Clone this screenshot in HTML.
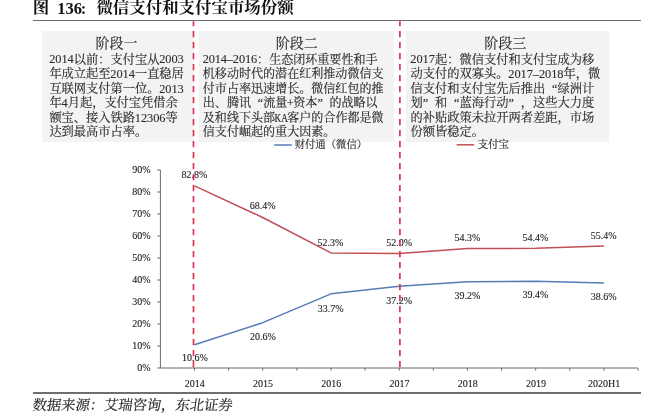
<!DOCTYPE html>
<html lang="zh-CN">
<head>
<meta charset="utf-8">
<title>图 136: 微信支付和支付宝市场份额</title>
<style>
html,body{margin:0;padding:0;background:#fff}
body{width:660px;height:414px;position:relative;overflow:hidden;font-family:"Liberation Serif",serif;color:#2b2b2b}
.rule{position:absolute;left:32.5px;width:608.5px;height:1.6px;background:#6f6f6f}
.r1{top:19.6px}
.r2{top:392.2px}
.note{position:absolute;top:30.7px;height:111px;background:#f3f3f3}
.n1{left:42px;width:152px}
.n2{left:199px;width:194.5px}
.n3{left:406px;width:202.5px}
svg{position:absolute;left:0;top:0;font-family:"Liberation Serif","Noto Serif CJK SC",serif;filter:blur(.45px)}
</style>
</head>
<body>
<div class="rule r1"></div>
<div class="note n1"></div>
<div class="note n2"></div>
<div class="note n3"></div>
<div class="rule r2"></div>
<svg width="660" height="414" viewBox="0 0 660 414" role="img">
<!-- chart -->
<g stroke="#6a6a6a" stroke-width="1" fill="none">
<path d="M160.4 170 V368 H638"/>
<path d="M157.2 368h3.2M157.2 346h3.2M157.2 324h3.2M157.2 302h3.2M157.2 280h3.2M157.2 258h3.2M157.2 236h3.2M157.2 214h3.2M157.2 192h3.2M157.2 170h3.2M194.51 368v2.6M228.63 368v2.6M262.74 368v2.6M296.86 368v2.6M330.97 368v2.6M365.09 368v2.6M399.2 368v2.6M433.31 368v2.6M467.43 368v2.6M501.54 368v2.6M535.66 368v2.6M569.77 368v2.6M603.89 368v2.6M638 368v2.6"/>
</g>
<g font-size="10" text-anchor="end" fill="#222" stroke="#222" stroke-width=".12">
<text x="150.6" y="371.3">0%</text>
<text x="150.6" y="349.3">10%</text>
<text x="150.6" y="327.3">20%</text>
<text x="150.6" y="305.3">30%</text>
<text x="150.6" y="283.3">40%</text>
<text x="150.6" y="261.3">50%</text>
<text x="150.6" y="239.3">60%</text>
<text x="150.6" y="217.3">70%</text>
<text x="150.6" y="195.3">80%</text>
<text x="150.6" y="173.3">90%</text>
</g>
<g font-size="10" text-anchor="middle" fill="#222" stroke="#222" stroke-width=".12">
<text x="194.81" y="387.2">2014</text>
<text x="263.04" y="387.2">2015</text>
<text x="331.27" y="387.2">2016</text>
<text x="399.5" y="387.2">2017</text>
<text x="467.73" y="387.2">2018</text>
<text x="535.96" y="387.2">2019</text>
<text x="604.19" y="387.2">2020H1</text>
</g>
<polyline fill="none" stroke="#557cb4" stroke-width="1.5" stroke-linejoin="round" points="194.51,344.68 262.74,322.68 330.97,293.86 399.2,286.16 467.43,281.76 535.66,281.32 603.89,283.08"/>
<polyline fill="none" stroke="#c04f56" stroke-width="1.5" stroke-linejoin="round" points="194.51,185.84 262.74,217.52 330.97,252.94 399.2,253.6 467.43,248.54 535.66,248.32 603.89,246.12"/>
<path d="M274.2 145H291.8" stroke="#557cb4" stroke-width="1.5"/>
<path d="M456.6 144.8H474.2" stroke="#c04f56" stroke-width="1.5"/>
<g font-size="10" text-anchor="middle" fill="#222" stroke="#222" stroke-width=".12">
<text x="194.3" y="177.8">82.8%</text>
<text x="262.6" y="209.4">68.4%</text>
<text x="330.4" y="245.5">52.3%</text>
<text x="399.2" y="245.5">52.0%</text>
<text x="467.4" y="240.5">54.3%</text>
<text x="535.5" y="240.5">54.4%</text>
<text x="603.6" y="238.8">55.4%</text>
<text x="194.8" y="361.2">10.6%</text>
<text x="262.8" y="339.6">20.6%</text>
<text x="330.6" y="311.6">33.7%</text>
<text x="399.2" y="303.6">37.2%</text>
<text x="467.4" y="298.7">39.2%</text>
<text x="535.5" y="298.1">39.4%</text>
<text x="603.6" y="299.7">38.6%</text>
</g>
<g stroke="#d8384e" stroke-width="1.7" stroke-dasharray="6.2 4.8" stroke-dashoffset="1.2" fill="none">
<path d="M193.5 21.2V368"/>
<path d="M399.9 21.2V368"/>
</g>
<!-- text -->
<g aria-label="图 136: 微信支付和支付宝市场份额"><desc>图 136: 微信支付和支付宝市场份额</desc>
<text x="32.8" y="12.8" font-size="16.45" font-weight="bold" fill="#111">图</text>
<text x="57.2" y="14.1" font-size="16.5" font-weight="bold" fill="#111">136<tspan dx="-1.1">:</tspan></text>
<text x="96.4" y="13.3" font-size="16.45" font-weight="bold" fill="#111">微信支付和支付宝市场份额</text>
</g>
<g aria-label="阶段一" fill="#2b2b2b"><desc>阶段一：2014以前：支付宝从2003年成立起至2014一直稳居互联网支付第一位。2013年4月起，支付宝凭借余额宝、接入铁路12306等达到最高市占率。</desc>
<text x="95.6" y="48" font-size="14" stroke="#2b2b2b" stroke-width=".16">阶段一</text>
<g font-size="12.22" stroke="#2b2b2b" stroke-width=".16">
<text x="73.85" y="63.6">以前：支付宝从</text>
<text x="49.41" y="78.15">年成立起至</text>
<text x="134.95" y="78.15">一直稳居</text>
<text x="49.41" y="92.7">互联网支付第一位。</text>
<text x="49.41" y="107.25">年</text>
<text x="67.74" y="107.25">月起，支付宝凭借余</text>
<text x="49.41" y="121.8">额宝、接入铁路</text>
<text x="165.5" y="121.8">等</text>
<text x="49.41" y="136.35">达到最高市占率。</text>
</g>
<text x="52.35 58.46 64.58 70.69" y="63.4" font-size="12.4" text-anchor="middle" stroke="#2b2b2b" stroke-width=".1">2014</text><text x="162.34 168.45 174.56 180.67" y="63.4" font-size="12.4" text-anchor="middle" stroke="#2b2b2b" stroke-width=".1">2003</text>
<text x="113.45 119.56 125.67 131.78" y="77.95" font-size="12.4" text-anchor="middle" stroke="#2b2b2b" stroke-width=".1">2014</text>
<text x="162.34 168.45 174.56 180.67" y="92.5" font-size="12.4" text-anchor="middle" stroke="#2b2b2b" stroke-width=".1">2013</text>
<text x="64.58" y="107.05" font-size="12.4" text-anchor="middle" stroke="#2b2b2b" stroke-width=".1">4</text>
<text x="137.9 144.01 150.12 156.23 162.34" y="121.6" font-size="12.4" text-anchor="middle" stroke="#2b2b2b" stroke-width=".1">12306</text>
</g>
<g aria-label="阶段二" fill="#2b2b2b"><desc>阶段二：2014-2016：生态闭环重要性和手机移动时代的潜在红利推动微信支付市占率迅速增长。微信红包的推出、腾讯“流量+资本”的战略以及和线下头部KA客户的合作都是微信支付崛起的重大因素。</desc>
<text x="275.8" y="48" font-size="14" stroke="#2b2b2b" stroke-width=".16">阶段二</text>
<g font-size="12.06" stroke="#2b2b2b" stroke-width=".16">
<text x="257.1" y="63.6">：生态闭环重要性和手</text>
<text x="202.83" y="78.15">机移动时代的潜在红利推动微信支</text>
<text x="202.83" y="92.7">付市占率迅速增长。微信红包的推</text>
<text x="202.83" y="107.25">出、腾讯</text>
<text x="263.13" y="107.25" text-anchor="end">“</text>
<text x="263.13" y="107.25">流量</text>
<text x="293.28" y="107.25">资本</text>
<text x="317.4" y="107.25">”</text>
<text x="329.46" y="107.25">的战略以</text>
<text x="202.83" y="121.8">及和线下头部</text>
<text x="287.25" y="121.8">客户的合作都是微</text>
<text x="202.83" y="136.35">信支付崛起的重大因素。</text>
</g>
<text x="205.81 211.84 217.88 223.91 229.94 235.97 242 248.03 254.06" y="63.4" font-size="12.4" text-anchor="middle" stroke="#2b2b2b" stroke-width=".1">2014–2016</text>
<text x="290.24" y="107.05" font-size="12.4" text-anchor="middle" stroke="#2b2b2b" stroke-width=".1">+</text>
<text transform="translate(281.19 121.6) scale(.74 1)" font-size="12.4" text-anchor="middle" stroke="#2b2b2b" stroke-width=".25">KA</text>
</g>
<g aria-label="阶段三" fill="#2b2b2b"><desc>阶段三：2017起：微信支付和支付宝成为移动支付的双寡头。2017-2018年，微信支付和支付宝先后推出“绿洲计划”和“蓝海行动”，这些大力度的补贴政策未拉开两者差距，市场份额皆稳定。</desc>
<text x="484.2" y="48" font-size="14" stroke="#2b2b2b" stroke-width=".16">阶段三</text>
<g font-size="12.25" stroke="#2b2b2b" stroke-width=".16">
<text x="434.93" y="63.6">起：微信支付和支付宝成为移</text>
<text x="410.42" y="78.15">动支付的双寡头。</text>
<text x="563.55" y="78.15">年，微</text>
<text x="410.42" y="92.7">信支付和支付宝先后推出</text>
<text x="557.43" y="92.7" text-anchor="end">“</text>
<text x="557.42" y="92.7">绿洲计</text>
<text x="410.42" y="107.25">划</text>
<text x="422.68" y="107.25">”</text>
<text x="434.93" y="107.25">和</text>
<text x="459.42" y="107.25" text-anchor="end">“</text>
<text x="459.43" y="107.25">蓝海行动</text>
<text x="508.43" y="107.25">”</text>
<text x="520.67" y="107.25">，这些大力度</text>
<text x="410.42" y="121.8">的补贴政策未拉开两者差距，市场</text>
<text x="410.42" y="136.35">份额皆稳定。</text>
</g>
<text x="413.36 419.49 425.61 431.74" y="63.4" font-size="12.4" text-anchor="middle" stroke="#2b2b2b" stroke-width=".1">2017</text>
<text x="511.36 517.49 523.61 529.74 535.86 541.99 548.11 554.24 560.36" y="77.95" font-size="12.4" text-anchor="middle" stroke="#2b2b2b" stroke-width=".1">2017–2018</text>
</g>
<g aria-label="财付通（微信）" fill="#2b2b2b"><desc>财付通（微信）</desc>
<text x="294.68" y="148.4" font-size="10.35" stroke="#2b2b2b" stroke-width=".16">财付通（微信）</text>
</g>
<g aria-label="支付宝" fill="#2b2b2b"><desc>支付宝</desc>
<text x="477.87" y="148.2" font-size="10.35" stroke="#2b2b2b" stroke-width=".16">支付宝</text>
</g>
<g aria-label="数据来源：艾瑞咨询，东北证券" fill="#222"><desc>数据来源：艾瑞咨询，东北证券</desc>
<text transform="translate(31.9 410.4) skewX(-8)" x="0.15" y="0" font-size="14.3" stroke="#2b2b2b" stroke-width=".16">数据来源：艾瑞咨询，东北证券</text>
</g>
</svg>
</body>
</html>
